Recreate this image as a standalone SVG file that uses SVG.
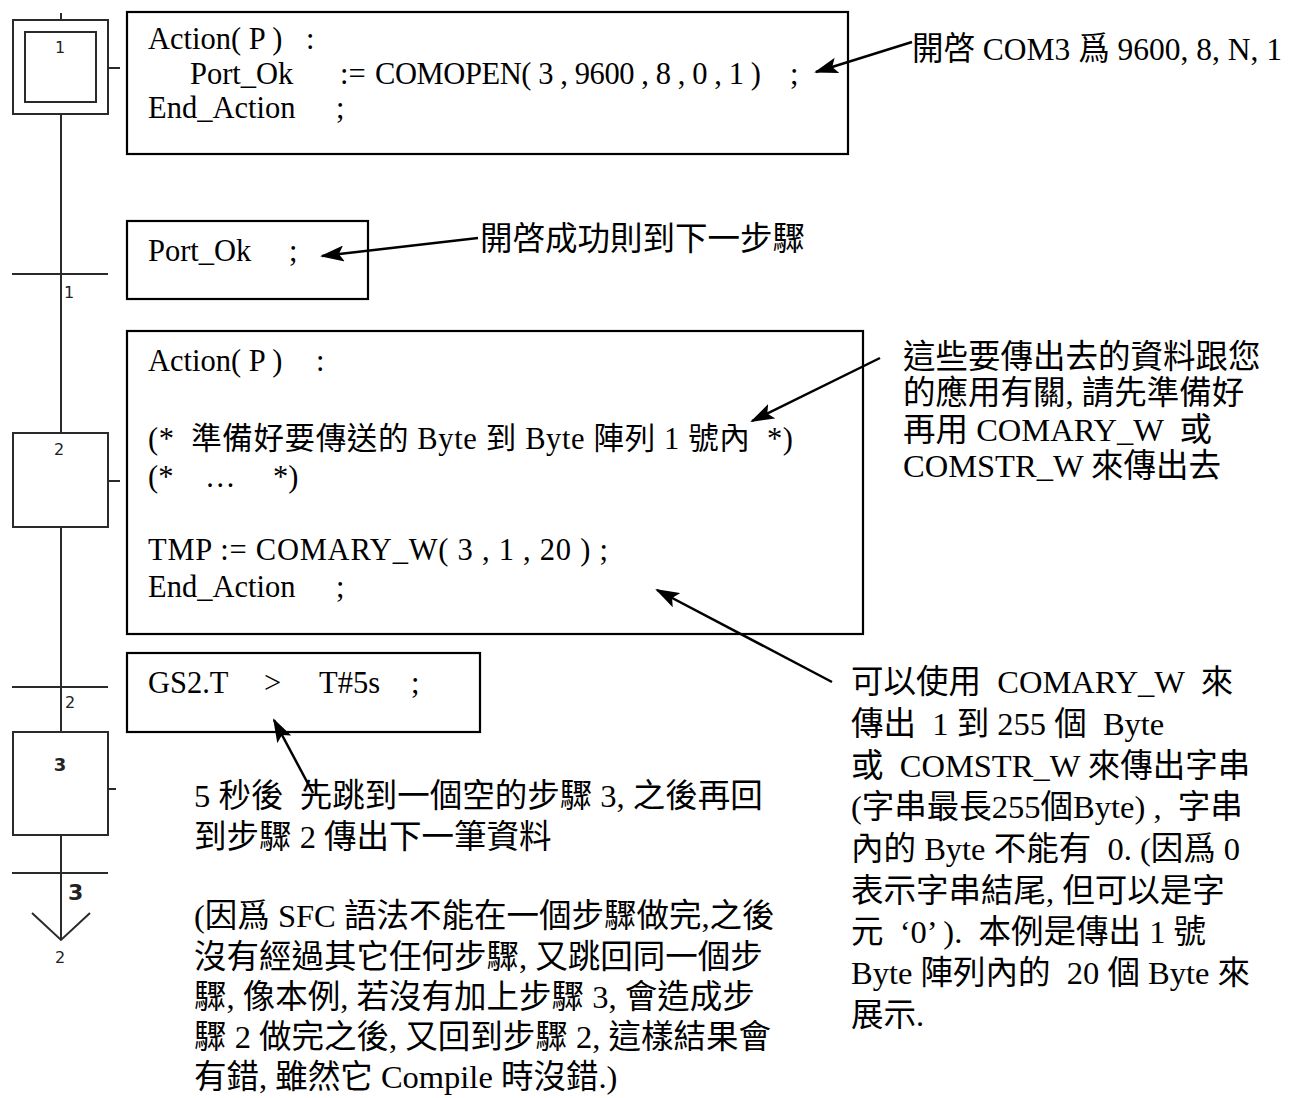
<svg xmlns="http://www.w3.org/2000/svg" width="1295" height="1098" viewBox="0 0 1295 1098">
  <style>
    .sfc { stroke: #2a2a2a; stroke-width: 2; fill: none; }
    .box { stroke: #000; stroke-width: 2.2; fill: #fff; }
    .code { font-family: "Liberation Serif", "Noto Sans CJK TC", serif; font-size: 30.5px; fill: #000; white-space: pre; }
    .note { font-family: "Liberation Serif", "Noto Sans CJK TC", serif; font-size: 32.5px; fill: #000; white-space: pre; }
    .num { font-family: "DejaVu Sans", "Liberation Sans", sans-serif; font-size: 16px; fill: #222; }
    .numb { font-family: "DejaVu Sans", "Liberation Sans", sans-serif; font-weight: bold; fill: #222; }
    .arrow { stroke: #000; stroke-width: 2.5; fill: none; marker-end: url(#head); }
  </style>
  <defs>
    <marker id="head" markerUnits="userSpaceOnUse" markerWidth="24" markerHeight="16" refX="22" refY="8" orient="auto">
      <path d="M0,0 L24,8 L0,16 L5,8 Z" fill="#000"/>
    </marker>
  </defs>
  <rect width="1295" height="1098" fill="#fff"/>

  <!-- SFC column -->
  <g id="sfc-line">
    <line class="sfc" x1="61" y1="13" x2="61" y2="20"/>
    <line class="sfc" x1="61" y1="114" x2="61" y2="433"/>
    <line class="sfc" x1="61" y1="527" x2="61" y2="732"/>
    <line class="sfc" x1="61" y1="835" x2="61" y2="940"/>
  </g>
  <g id="step1">
    <rect class="sfc" x="13" y="20" width="95" height="94"/>
    <rect class="sfc" x="25" y="32" width="71" height="70"/>
    <line class="sfc" x1="108" y1="68" x2="120" y2="68"/>
    <text class="num" x="60" y="53" text-anchor="middle">1</text>
  </g>
  <g id="trans1">
    <line class="sfc" x1="12" y1="274" x2="108" y2="274"/>
    <text class="num" x="64" y="298">1</text>
  </g>
  <g id="step2">
    <rect class="sfc" x="13" y="433" width="95" height="94"/>
    <line class="sfc" x1="108" y1="481" x2="120" y2="481"/>
    <text class="num" x="59" y="455" text-anchor="middle">2</text>
  </g>
  <g id="trans2">
    <line class="sfc" x1="12" y1="687" x2="108" y2="687"/>
    <text class="num" x="65" y="708">2</text>
  </g>
  <g id="step3">
    <rect class="sfc" x="13" y="732" width="95" height="103"/>
    <line class="sfc" x1="108" y1="789" x2="116" y2="789"/>
    <text class="numb" x="60" y="771" font-size="18" text-anchor="middle">3</text>
  </g>
  <g id="trans3">
    <line class="sfc" x1="12" y1="873" x2="108" y2="873"/>
    <text class="numb" x="68" y="900" font-size="22">3</text>
  </g>
  <g id="jump2">
    <polyline class="sfc" points="32,913 61,940 90,913" stroke-width="1.5"/>
    <text class="num" x="60" y="963" font-size="15" text-anchor="middle">2</text>
  </g>

  <!-- Code boxes -->
  <g id="action1">
    <rect class="box" x="127" y="12" width="721" height="142"/>
    <text class="code" x="148" y="49">Action( P )</text>
    <text class="code" x="306" y="49">:</text>
    <text class="code" x="190" y="84">Port_Ok</text>
    <text class="code" x="340" y="84">:=</text>
    <text class="code" x="375" y="84" textLength="386" lengthAdjust="spacing">COMOPEN( 3 , 9600 , 8 , 0 , 1 )</text>
    <text class="code" x="790" y="84">;</text>
    <text class="code" x="148" y="118">End_Action</text>
    <text class="code" x="336" y="118">;</text>
  </g>
  <g id="cond1">
    <rect class="box" x="127" y="221" width="241" height="78"/>
    <text class="code" x="148" y="261">Port_Ok</text>
    <text class="code" x="289" y="261">;</text>
  </g>
  <g id="action2">
    <rect class="box" x="127" y="331" width="736" height="303"/>
    <text class="code" x="148" y="371">Action( P )</text>
    <text class="code" x="316" y="371">:</text>
    <text class="code" x="148" y="449" textLength="645" lengthAdjust="spacing">(*  準備好要傳送的 Byte 到 Byte 陣列 1 號內  *)</text>
    <text class="code" x="148" y="487">(*</text>
    <text class="code" x="205" y="487">…</text>
    <text class="code" x="273" y="487">*)</text>
    <text class="code" x="148" y="560" textLength="460" lengthAdjust="spacing">TMP := COMARY_W( 3 , 1 , 20 ) ;</text>
    <text class="code" x="148" y="597">End_Action</text>
    <text class="code" x="336" y="597">;</text>
  </g>
  <g id="cond2">
    <rect class="box" x="127" y="653" width="353" height="79"/>
    <text class="code" x="148" y="693">GS2.T</text>
    <text class="code" x="264" y="693">&gt;</text>
    <text class="code" x="319" y="693">T#5s</text>
    <text class="code" x="411" y="693">;</text>
  </g>

  <!-- Notes -->
  <g id="note1">
    <text class="note" x="912" y="60" textLength="370" lengthAdjust="spacingAndGlyphs">開啓 COM3 爲 9600, 8, N, 1</text>
  </g>
  <g id="note2">
    <text class="note" x="480" y="250">開啓成功則到下一步驟</text>
  </g>
  <g id="note3">
    <text class="note" x="903" y="368">這些要傳出去的資料跟您</text>
    <text class="note" x="903" y="404">的應用有關, 請先準備好</text>
    <text class="note" x="903" y="441">再用 COMARY_W  或</text>
    <text class="note" x="903" y="477">COMSTR_W 來傳出去</text>
  </g>
  <g id="note4">
    <text class="note" x="851" y="693">可以使用  COMARY_W  來</text>
    <text class="note" x="851" y="735">傳出  1 到 255 個  Byte</text>
    <text class="note" x="851" y="777">或  COMSTR_W 來傳出字串</text>
    <text class="note" x="851" y="818">(字串最長255個Byte) ,  字串</text>
    <text class="note" x="851" y="860">內的 Byte 不能有  0. (因爲 0</text>
    <text class="note" x="851" y="902">表示字串結尾, 但可以是字</text>
    <text class="note" x="851" y="943">元  ‘0’ ).  本例是傳出 1 號</text>
    <text class="note" x="851" y="984">Byte 陣列內的  20 個 Byte 來</text>
    <text class="note" x="851" y="1026">展示.</text>
  </g>
  <g id="note5">
    <text class="note" x="194" y="807">5 秒後  先跳到一個空的步驟 3, 之後再回</text>
    <text class="note" x="194" y="848">到步驟 2 傳出下一筆資料</text>
    <text class="note" x="194" y="927">(因爲 SFC 語法不能在一個步驟做完,之後</text>
    <text class="note" x="194" y="968">沒有經過其它任何步驟, 又跳回同一個步</text>
    <text class="note" x="194" y="1008">驟, 像本例, 若沒有加上步驟 3, 會造成步</text>
    <text class="note" x="194" y="1048">驟 2 做完之後, 又回到步驟 2, 這樣結果會</text>
    <text class="note" x="194" y="1088">有錯, 雖然它 Compile 時沒錯.)</text>
  </g>

  <!-- Connectors -->
  <g id="connectors">
    <line class="arrow" x1="912" y1="42" x2="816" y2="72"/>
    <line class="arrow" x1="478" y1="238" x2="322" y2="256"/>
    <line class="arrow" x1="880" y1="358" x2="752" y2="421"/>
    <line class="arrow" x1="832" y1="682" x2="657" y2="590"/>
    <line class="arrow" x1="313" y1="793" x2="274" y2="720"/>
  </g>
</svg>
